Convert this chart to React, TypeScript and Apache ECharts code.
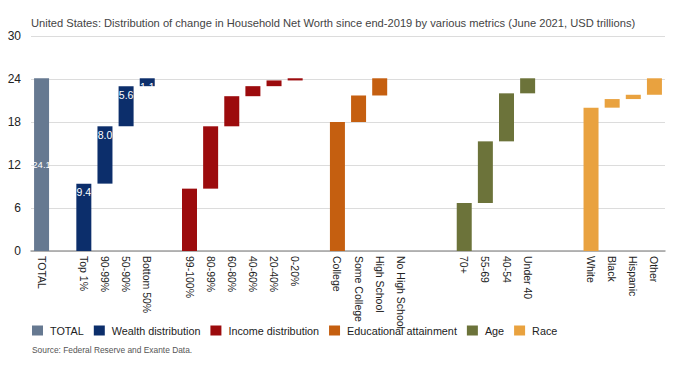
import React, { useEffect, useRef } from "react";
import * as echarts from "echarts";

const FONT = "'Liberation Sans', Arial, sans-serif";

// Category slots (blank strings are empty spacer slots)
const categories = [
  "TOTAL", " ",
  "Top 1%", "90-99%", "50-90%", "Bottom 50%", "  ",
  "99-100%", "80-99%", "60-80%", "40-60%", "20-40%", "0-20%", "   ",
  "College", "Some College", "High School", "No High School", "    ", "     ",
  "70+", "55-69", "40-54", "Under 40", "      ", "       ",
  "White", "Black", "Hispanic", "Other",
];

const totalCats = ["TOTAL"];
const totalValues = [24.1];

const wealthCats = ["Top 1%", "90-99%", "50-90%", "Bottom 50%"];
const wealthValues = [9.4, 8.0, 5.6, 1.1];

const incomeCats = ["99-100%", "80-99%", "60-80%", "40-60%", "20-40%", "0-20%"];
const incomeValues = [8.7, 8.7, 4.2, 1.4, 0.8, 0.3];

const eduCats = ["College", "Some College", "High School", "No High School"];
const eduValues = [18.0, 3.7, 2.4, 0.0];

const ageCats = ["70+", "55-69", "40-54", "Under 40"];
const ageValues = [6.7, 8.6, 6.7, 2.1];

const raceCats = ["White", "Black", "Hispanic", "Other"];
const raceValues = [20.0, 1.2, 0.6, 2.3];

const yTicks = [0, 6, 12, 18, 24, 30];

const groups = [
  { name: "TOTAL", cats: totalCats, vals: totalValues, color: "#667991" },
  { name: "Wealth distribution", cats: wealthCats, vals: wealthValues, color: "#0c2e6b" },
  { name: "Income distribution", cats: incomeCats, vals: incomeValues, color: "#9c0b0d" },
  { name: "Educational attainment", cats: eduCats, vals: eduValues, color: "#c55f10" },
  { name: "Age", cats: ageCats, vals: ageValues, color: "#6c733a" },
  { name: "Race", cats: raceCats, vals: raceValues, color: "#e9a23f" },
];

export default function App() {
  const ref = useRef<HTMLDivElement>(null);

  useEffect(() => {
    if (!ref.current) return;
    const chart = echarts.init(ref.current, null, { renderer: "svg" });

    const base: (number | string)[] = categories.map(() => "-");
    const seriesList: any[] = [];

    groups.forEach((g) => {
      const arr: (number | string)[] = categories.map(() => "-");
      let cum = 0;
      g.cats.forEach((c, i) => {
        const idx = categories.indexOf(c);
        base[idx] = cum;
        arr[idx] = g.vals[i];
        cum += g.vals[i];
      });
      const isTotal = g.name === "TOTAL";
      const isWealth = g.name === "Wealth distribution";
      seriesList.push({
        name: g.name,
        type: "bar",
        stack: "w",
        barWidth: 15,
        data: arr,
        itemStyle: { color: g.color },
        label: {
          show: isTotal || isWealth,
          position: isTotal ? "inside" : "insideTop",
          distance: 3,
          color: "#ffffff",
          fontSize: isTotal ? 9.5 : 10.5,
          fontFamily: FONT,
          formatter: (p: any) => Number(p.value).toFixed(1),
        },
      });
    });

    const option: any = {
      animation: false,
      title: [
        {
          text: "United States: Distribution of change in Household Net Worth since end-2019 by various metrics (June 2021, USD trillions)",
          left: 31,
          top: 17,
          padding: 0,
          textStyle: { fontSize: 11.15, fontWeight: "normal", color: "#444", fontFamily: FONT },
        },
        {
          text: "Source: Federal Reserve and Exante Data.",
          left: 32,
          top: 346,
          padding: 0,
          textStyle: { fontSize: 8.4, fontWeight: "normal", color: "#555", fontFamily: FONT },
        },
      ],
      legend: {
        data: groups.map((g) => g.name),
        left: 32,
        top: 325,
        padding: 0,
        icon: "rect",
        itemWidth: 11,
        itemHeight: 10,
        itemGap: 10,
        textStyle: { fontSize: 10.8, color: "#222", fontFamily: FONT, padding: [0, 0, 0, 2] },
      },
      grid: { left: 31, right: 15, top: 36, bottom: 118 },
      xAxis: {
        type: "category",
        data: categories,
        axisTick: { show: false },
        axisLine: { lineStyle: { color: "#a0a0a0", width: 1.5 } },
        axisLabel: {
          interval: 0,
          rotate: -90,
          margin: 5,
          fontSize: 10.5,
          color: "#222",
          fontFamily: FONT,
        },
      },
      yAxis: {
        type: "value",
        min: yTicks[0],
        max: yTicks[yTicks.length - 1],
        interval: 6,
        axisLine: { show: false },
        axisTick: { show: false },
        axisLabel: { fontSize: 12, color: "#222", margin: 10, fontFamily: FONT },
        splitLine: { lineStyle: { color: "#dcdcdc" } },
      },
      series: [
        {
          name: "base",
          type: "bar",
          stack: "w",
          barWidth: 15,
          data: base,
          itemStyle: { color: "transparent" },
          emphasis: { disabled: true },
          silent: true,
        },
        ...seriesList,
      ],
    };
    chart.setOption(option);
    return () => chart.dispose();
  }, []);

  return <div ref={ref} style={{ width: 680, height: 369, position: "absolute", left: 0, top: 0 }} />;
}
